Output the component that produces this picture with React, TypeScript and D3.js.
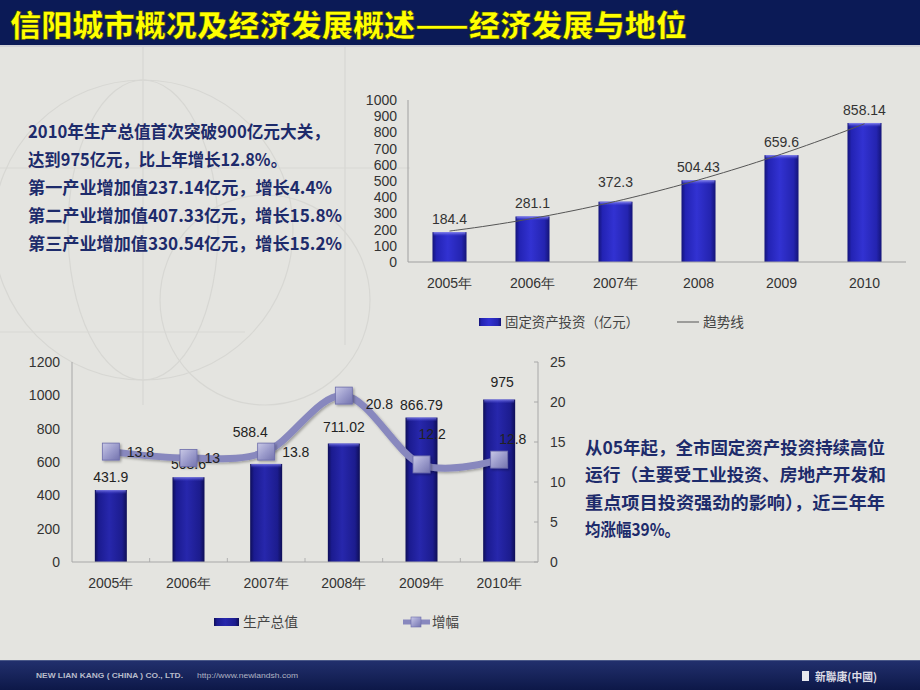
import React from "react";
import * as d3 from "d3";

// ---------- data ----------
const invYears = ["2005年", "2006年", "2007年", "2008", "2009", "2010"];
const invValues = [184.4, 281.1, 372.3, 504.43, 659.6, 858.14];
const invTicks = [0, 100, 200, 300, 400, 500, 600, 700, 800, 900, 1000];

const gdpYears = ["2005年", "2006年", "2007年", "2008年", "2009年", "2010年"];
const gdpValues = [431.9, 508.6, 588.4, 711.02, 866.79, 975];
const growthValues = [13.8, 13, 13.8, 20.8, 12.2, 12.8];
const gdpTicks = [0, 200, 400, 600, 800, 1000, 1200];
const growthTicks = [0, 5, 10, 15, 20, 25];

const titleText = "信阳城市概况及经济发展概述——经济发展与地位";
const leftLines = [
  "2010年生产总值首次突破900亿元大关，",
  "达到975亿元，比上年增长12.8%。",
  "第一产业增加值237.14亿元，增长4.4%",
  "第二产业增加值407.33亿元，增长15.8%",
  "第三产业增加值330.54亿元，增长15.2%",
];
const rightLines = [
  "从05年起，全市固定资产投资持续高位",
  "运行（主要受工业投资、房地产开发和",
  "重点项目投资强劲的影响），近三年年",
  "均涨幅39%。",
];

// ---------- layout helpers (not data) ----------
const leftWidths = [302, 259, 304, 314, 314];
const rightWidths = [300, 301, 300, 95];
const invLabelDy = [0, 0, -7, 0, 0, 0];
const gdpLabelDx = [0, 0, -16, 0, 0, 3];
const gdpLabelDy = [0, 0, -19, -3, 1, -4];
const growthLabelDx = [0, 0, 0, 6, -19, -16];
const growthLabelDy = [0, 0, 0, 8, -30, -21];

const LAT = "'Liberation Sans', Arial, sans-serif";
const CJK = "'Noto Sans CJK SC', 'Noto Sans', sans-serif";

function quadFit(ys: number[]) {
  let s0 = 0, s1 = 0, s2 = 0, s3 = 0, s4 = 0, b0 = 0, b1 = 0, b2 = 0;
  ys.forEach((y, t) => {
    s0 += 1; s1 += t; s2 += t * t; s3 += t * t * t; s4 += t * t * t * t;
    b0 += y; b1 += t * y; b2 += t * t * y;
  });
  const det = (m: number[][]) =>
    m[0][0] * (m[1][1] * m[2][2] - m[1][2] * m[2][1]) -
    m[0][1] * (m[1][0] * m[2][2] - m[1][2] * m[2][0]) +
    m[0][2] * (m[1][0] * m[2][1] - m[1][1] * m[2][0]);
  const A = [[s0, s1, s2], [s1, s2, s3], [s2, s3, s4]];
  const D = det(A);
  const rhs = [b0, b1, b2];
  const rep = (col: number) => A.map((row, i) => row.map((v, j) => (j === col ? rhs[i] : v)));
  const c = det(rep(0)) / D, b = det(rep(1)) / D, a = det(rep(2)) / D;
  return (t: number) => c + b * t + a * t * t;
}

export default function App() {
  // top chart
  const xTop = d3.scaleBand<string>().domain(invYears).range([408, 906]).paddingInner(0.59).paddingOuter(0.295);
  const yTop = d3.scaleLinear().domain([0, 1000]).range([262, 100]);
  const trend = quadFit(invValues);
  const c0 = xTop(invYears[0])! + xTop.bandwidth() / 2;
  const step = xTop.step();
  const trendPts: [number, number][] = d3.range(0, 5.001, 0.1).map((t) => [c0 + t * step, yTop(trend(t))]);
  const trendPath = d3.line().curve(d3.curveBasis)(trendPts) || "";

  // bottom chart
  const xBot = d3.scaleBand<string>().domain(gdpYears).range([72, 538]).paddingInner(0.588).paddingOuter(0.294);
  const yBot = d3.scaleLinear().domain([0, 1200]).range([562, 362]);
  const yR = d3.scaleLinear().domain([0, 25]).range([562, 362]);
  const cx = (y: string) => xBot(y)! + xBot.bandwidth() / 2;
  const growthPts: [number, number][] = gdpYears.map((y, i) => [cx(y), yR(growthValues[i])]);
  const growthPath = d3.line().curve(d3.curveCardinal.tension(0))(growthPts) || "";

  const bw1 = xTop.bandwidth();
  const bw2 = xBot.bandwidth();

  return (
    <svg width={920} height={690} style={{ position: "absolute", left: 0, top: 0, display: "block" }}>
      <defs>
        <linearGradient id="barTop" x1="0" x2="1" y1="0" y2="0">
          <stop offset="0" stopColor="#14147a" />
          <stop offset="0.12" stopColor="#2323b4" />
          <stop offset="0.45" stopColor="#3232d2" />
          <stop offset="0.85" stopColor="#2424b0" />
          <stop offset="1" stopColor="#141478" />
        </linearGradient>
        <linearGradient id="barBot" x1="0" x2="1" y1="0" y2="0">
          <stop offset="0" stopColor="#0e0e58" />
          <stop offset="0.12" stopColor="#1b1b90" />
          <stop offset="0.45" stopColor="#2727ac" />
          <stop offset="0.85" stopColor="#1c1c8e" />
          <stop offset="1" stopColor="#0e0e56" />
        </linearGradient>
        <linearGradient id="bevel" x1="0" x2="0" y1="0" y2="1">
          <stop offset="0" stopColor="#8a8af0" />
          <stop offset="1" stopColor="#4a4ad8" stopOpacity="0" />
        </linearGradient>
        <linearGradient id="marker" x1="0" x2="1" y1="0" y2="1">
          <stop offset="0" stopColor="#c9c9e6" />
          <stop offset="0.5" stopColor="#9c9ccc" />
          <stop offset="1" stopColor="#7474ae" />
        </linearGradient>
        <linearGradient id="footer" x1="0" x2="0" y1="0" y2="1">
          <stop offset="0" stopColor="#22306e" />
          <stop offset="1" stopColor="#0d1848" />
        </linearGradient>
        <filter id="shadow" x="-30%" y="-30%" width="160%" height="160%">
          <feDropShadow dx="1.5" dy="1.5" stdDeviation="1.2" floodColor="#000" floodOpacity="0.3" />
        </filter>
      </defs>

      {/* background */}
      <rect x={0} y={0} width={920} height={690} fill="#e4e4e0" />
      <g fill="none" stroke="#d7d7d3" strokeWidth={1.2}>
        <line x1={143} y1={45} x2={143} y2={405} />
        <line x1={345} y1={45} x2={345} y2={345} />
        <line x1={0} y1={168} x2={410} y2={168} />
        <line x1={0} y1={332} x2={245} y2={332} />
        <circle cx={143} cy={230} r={150} />
        <ellipse cx={143} cy={230} rx={75} ry={150} />
        <circle cx={265} cy={300} r={105} />
      </g>

      {/* title bar */}
      <rect x={0} y={0} width={920} height={45} fill="#0b1a56" />
      <rect x={0} y={45} width={920} height={2} fill="#d2d2d6" />
      <text x={10} y={36} fontFamily={CJK} fontWeight={900} fontSize={30} fill="#ffff00"
        stroke="#2a2a10" strokeWidth={0.5} textLength={677} lengthAdjust="spacingAndGlyphs">
        {titleText}
      </text>

      {/* left paragraph */}
      {leftLines.map((s, i) => (
        <text key={s} x={28} y={138 + i * 28} fontFamily={CJK} fontWeight={700} fontSize={17.5}
          fill="#1d2b6b" textLength={leftWidths[i]} lengthAdjust="spacingAndGlyphs">
          {s}
        </text>
      ))}

      {/* right paragraph */}
      {rightLines.map((s, i) => (
        <text key={s} x={585} y={454 + i * 27.3} fontFamily={CJK} fontWeight={700} fontSize={17.6}
          fill="#1d2b6b" textLength={rightWidths[i]} lengthAdjust="spacingAndGlyphs">
          {s}
        </text>
      ))}

      {/* ===== top chart ===== */}
      <g fontFamily={LAT} fontSize={14} fill="#333">
        {invTicks.map((t) => (
          <text key={t} x={397} y={yTop(t)} dy="0.35em" textAnchor="end">{t}</text>
        ))}
      </g>
      <line x1={408} y1={100} x2={408} y2={262} stroke="#a0a0a0" />
      {invYears.map((y, i) => (
        <g key={y}>
          <rect x={xTop(y)} y={yTop(invValues[i])} width={bw1} height={262 - yTop(invValues[i])} fill="url(#barTop)" />
          <rect x={xTop(y)! + 1} y={yTop(invValues[i])} width={bw1 - 2} height={4} fill="url(#bevel)" />
        </g>
      ))}
      <line x1={408} y1={262} x2={906} y2={262} stroke="#a0a0a0" />
      <path d={trendPath} fill="none" stroke="#555" strokeWidth={1} />
      <g fontFamily={LAT} fontSize={14} fill="#333" textAnchor="middle">
        {invYears.map((y, i) => (
          <text key={y} x={xTop(y)! + bw1 / 2} y={yTop(invValues[i]) - 13 + invLabelDy[i]} dy="0.35em">
            {invValues[i]}
          </text>
        ))}
        {invYears.map((y) => (
          <text key={"x" + y} x={xTop(y)! + bw1 / 2} y={283} dy="0.35em">{y}</text>
        ))}
      </g>
      {/* top legend */}
      <rect x={479} y={318} width={22} height={8} fill="url(#barTop)" />
      <text x={505} y={322} dy="0.35em" fontFamily={CJK} fontSize={13.5} fill="#444" textLength={134} lengthAdjust="spacingAndGlyphs">
        固定资产投资（亿元）
      </text>
      <line x1={677} y1={322} x2={699} y2={322} stroke="#555" strokeWidth={1} />
      <text x={703} y={322} dy="0.35em" fontFamily={CJK} fontSize={13.5} fill="#444" textLength={41} lengthAdjust="spacingAndGlyphs">
        趋势线
      </text>

      {/* ===== bottom chart ===== */}
      <g fontFamily={LAT} fontSize={14} fill="#333">
        {gdpTicks.map((t) => (
          <text key={t} x={60} y={yBot(t)} dy="0.35em" textAnchor="end">{t}</text>
        ))}
        {growthTicks.map((t) => (
          <text key={"r" + t} x={550} y={yR(t)} dy="0.35em">{t}</text>
        ))}
      </g>
      <line x1={72} y1={362} x2={72} y2={562} stroke="#a8a8a8" />
      <line x1={538} y1={362} x2={538} y2={562} stroke="#a8a8a8" />
      {growthTicks.map((t) => (
        <line key={"rt" + t} x1={534} x2={538} y1={yR(t)} y2={yR(t)} stroke="#a8a8a8" />
      ))}
      {gdpYears.slice(1).map((y) => (
        <line key={"bt" + y} x1={xBot(y)! - (xBot.step() - bw2) / 2} x2={xBot(y)! - (xBot.step() - bw2) / 2}
          y1={558} y2={562} stroke="#b0b0b0" />
      ))}
      {gdpYears.map((y, i) => (
        <g key={y}>
          <rect x={xBot(y)} y={yBot(gdpValues[i])} width={bw2} height={562 - yBot(gdpValues[i])} fill="url(#barBot)" />
          <rect x={xBot(y)! + 1} y={yBot(gdpValues[i])} width={bw2 - 2} height={4} fill="url(#bevel)" opacity={0.8} />
        </g>
      ))}
      <line x1={72} y1={562} x2={538} y2={562} stroke="#a8a8a8" />
      <g fontFamily={LAT} fontSize={14} fill="#222" textAnchor="middle">
        {gdpYears.map((y, i) => (
          <text key={y} x={cx(y) + gdpLabelDx[i]} y={yBot(gdpValues[i]) - 13 + gdpLabelDy[i]} dy="0.35em">
            {gdpValues[i]}
          </text>
        ))}
      </g>
      <path d={growthPath} fill="none" stroke="#8888be" strokeWidth={7} strokeLinecap="round" filter="url(#shadow)" />
      {growthPts.map(([x, y], i) => (
        <rect key={i} x={x - 8.5} y={y - 8.5} width={17} height={17} fill="url(#marker)" stroke="#6c6caa" strokeWidth={0.8}
          filter="url(#shadow)" />
      ))}
      <g fontFamily={LAT} fontSize={14} fill="#222">
        {growthPts.map(([x, y], i) => (
          <text key={i} x={x + 16 + growthLabelDx[i]} y={y + growthLabelDy[i]} dy="0.35em">
            {growthValues[i]}
          </text>
        ))}
      </g>
      <g fontFamily={LAT} fontSize={14} fill="#333" textAnchor="middle">
        {gdpYears.map((y) => (
          <text key={"x" + y} x={cx(y)} y={583} dy="0.35em">{y}</text>
        ))}
      </g>
      {/* bottom legend */}
      <rect x={214} y={618} width={25} height={8} fill="url(#barBot)" />
      <text x={243} y={622} dy="0.35em" fontFamily={CJK} fontSize={14} fill="#444" textLength={55} lengthAdjust="spacingAndGlyphs">
        生产总值
      </text>
      <line x1={403} y1={622} x2={430} y2={622} stroke="#8888be" strokeWidth={5} />
      <rect x={411} y={617} width={10} height={10} fill="url(#marker)" stroke="#6c6caa" strokeWidth={0.6} />
      <text x={432} y={622} dy="0.35em" fontFamily={CJK} fontSize={14} fill="#444" textLength={27} lengthAdjust="spacingAndGlyphs">
        增幅
      </text>

      {/* footer */}
      <rect x={0} y={660} width={920} height={30} fill="url(#footer)" />
      <rect x={0} y={660} width={920} height={1} fill="#4a5888" />
      <text x={36} y={678} fontFamily={LAT} fontWeight={700} fontSize={8} fill="#b8bccb" textLength={147} lengthAdjust="spacingAndGlyphs">
        NEW LIAN KANG ( CHINA ) CO., LTD.
      </text>
      <text x={197} y={678} fontFamily={LAT} fontSize={8} fill="#aeb2c2" textLength={101} lengthAdjust="spacingAndGlyphs">
        http://www.newlandsh.com
      </text>
      <rect x={802} y={671} width={7} height={10} fill="#e8e8ee" />
      <text x={815} y={681} fontFamily={CJK} fontWeight={700} fontSize={11} fill="#dcdce6" textLength={62} lengthAdjust="spacingAndGlyphs">
        新聯康(中國)
      </text>
    </svg>
  );
}
